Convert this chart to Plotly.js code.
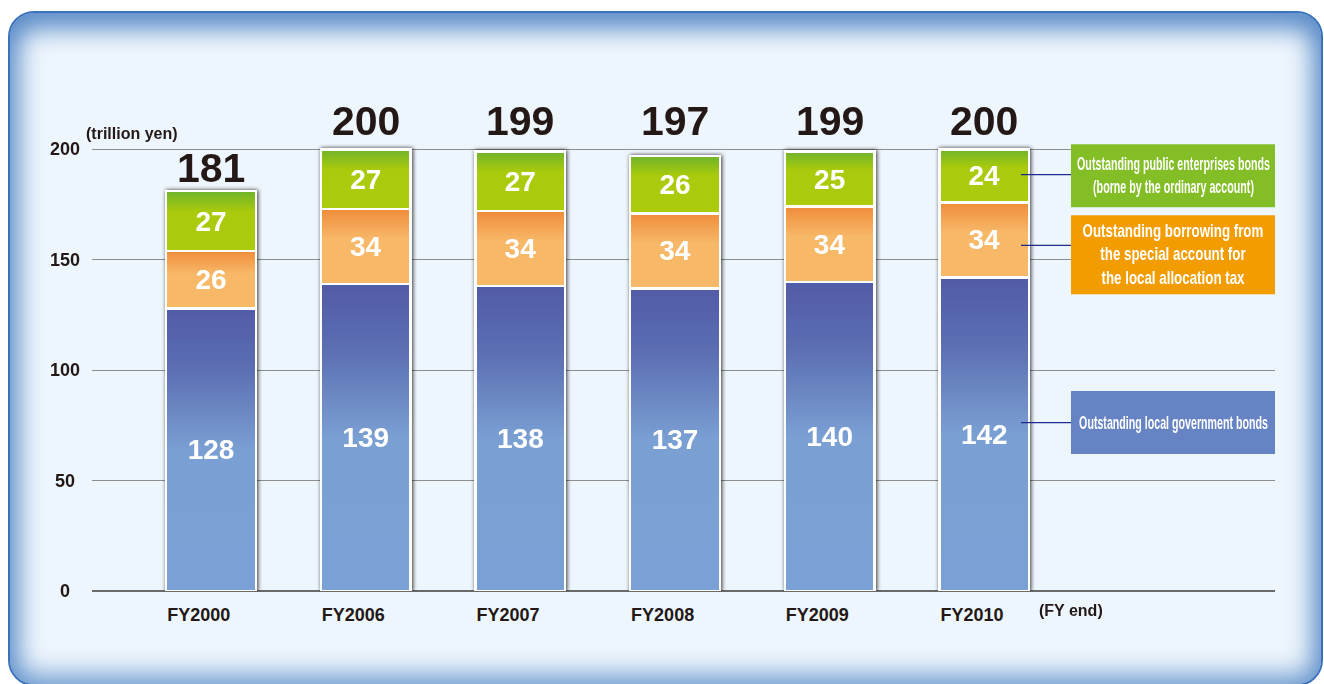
<!DOCTYPE html>
<html>
<head>
<meta charset="utf-8">
<script src="https://cdn.plot.ly/plotly-3.0.1.min.js"></script>
<style>
  html, body { margin:0; padding:0; background:#ffffff; width:1324px; height:684px; overflow:hidden; }
  #frame {
    position:absolute; left:8px; top:11px; width:1311px; height:671px;
    border:2px solid #3a72bb; border-radius:26px;
    background:#eef6fd;
    box-shadow: inset 0 0 26px 8px rgba(78,130,195,0.85), inset 0 22px 26px -6px rgba(78,130,195,0.6);
  }
  #chart { position:absolute; left:0; top:0; width:1324px; height:684px; }
</style>
</head>
<body>
<div id="frame"></div>
<div id="chart"></div>
<script>
// ---- data ----
const categories = ["FY2000", "FY2006", "FY2007", "FY2008", "FY2009", "FY2010"];
const localGovBonds = [128, 139, 138, 137, 140, 142];
const borrowingSpecialAccount = [26, 34, 34, 34, 34, 34];
const publicEnterpriseBonds = [27, 27, 27, 26, 25, 24];
const totals = [181, 200, 199, 197, 199, 200];
const seriesNames = [
  "Outstanding local government bonds",
  "Outstanding borrowing from<br>the special account for<br>the local allocation tax",
  "Outstanding public enterprises bonds<br>(borne by the ordinary account)"
];
const yTicks = [0, 50, 100, 150, 200];
const yUnit = "(trillion yen)";
const xUnit = "(FY end)";

const xIdx = categories.map((c, i) => i);
const txtColor = "#231815";
const sans = "Liberation Sans, Arial, sans-serif";

function barTrace(vals, name, color) {
  return {
    type: "bar", x: xIdx, y: vals, name: name,
    width: 0.58,
    marker: { color: color, line: { color: "#ffffff", width: 2.5 } },
    text: vals.map(String), textposition: "inside", insidetextanchor: "middle",
    textangle: 0, constraintext: "none",
    textfont: { family: sans, size: 28, color: "#ffffff", weight: "bold" },
    hoverinfo: "skip", showlegend: false
  };
}

const data = [
  barTrace(localGovBonds, seriesNames[0], "#6f92cc"),
  barTrace(borrowingSpecialAccount, seriesNames[1], "#f6b05e"),
  barTrace(publicEnterpriseBonds, seriesNames[2], "#a3c914")
];

// plot area: x 92..1275 px, y 0 at 591 px, 2.21 px per unit, range up to 230
const Y_MAX = 230;
const PLOT_H = Y_MAX * 2.21;
const pxX = (px) => (px - 92) / 1183;
const pxY = (py) => (591 - py) / PLOT_H;

const annotations = [
  { text: yUnit, xref: "paper", yref: "paper", x: pxX(84), y: pxY(133), xanchor: "left", yanchor: "middle",
    showarrow: false, font: { family: sans, size: 16, color: txtColor, weight: "bold" } },
  { text: xUnit, xref: "paper", yref: "paper", x: pxX(1037), y: pxY(611), xanchor: "left", yanchor: "middle",
    showarrow: false, font: { family: sans, size: 16, color: txtColor, weight: "bold" } }
];
// legend box texts (annotation indices 2..4)
const legendBoxes = [
  { name: seriesNames[2], top: 144, bottom: 207, color: "#83be26", w: 193 },
  { name: seriesNames[1], top: 215, bottom: 294, color: "#f39c00", w: 181 },
  { name: seriesNames[0], top: 391, bottom: 454, color: "#6683c3", w: 189 }
];
legendBoxes.forEach(b => annotations.push({
  text: b.name, xref: "paper", yref: "paper", x: (pxX(1071) + 1) / 2, y: pxY((b.top + b.bottom) / 2),
  xanchor: "center", yanchor: "middle", showarrow: false,
  font: { family: sans, size: 18, color: "#ffffff", weight: "bold" }
}));
// totals above the stacks; the tall stacks share one label row
totals.forEach((t, i) => annotations.push({
  text: String(t), xref: "x", yref: "y", x: xIdx[i], y: (t < 190 ? t + 10.4 : 213),
  xanchor: "center", yanchor: "middle", showarrow: false,
  font: { family: sans, size: 41, color: txtColor, weight: "bold" }
}));
// y tick labels, centred at a fixed x like the reference
yTicks.forEach(v => annotations.push({
  text: String(v), xref: "paper", yref: "y", x: pxX(65), y: v, xanchor: "center", yanchor: "middle",
  showarrow: false, font: { family: sans, size: 18, color: txtColor, weight: "bold" }
}));

const shapes = legendBoxes.map(b => ({
  type: "rect", xref: "paper", yref: "paper", x0: pxX(1071), x1: 1, y0: pxY(b.bottom), y1: pxY(b.top),
  fillcolor: b.color, line: { width: 0 }, layer: "above"
}));
[188.5, 156.5, 76.2].forEach(v => shapes.push({
  type: "line", xref: "paper", yref: "y", x0: pxX(1021), x1: pxX(1071), y0: v, y1: v,
  line: { color: "#1e2a8c", width: 1.2 }
}));

const layout = {
  width: 1324, height: 684,
  margin: { l: 92, r: 49, t: 684 - 93 - PLOT_H, b: 93 },
  paper_bgcolor: "rgba(0,0,0,0)", plot_bgcolor: "rgba(0,0,0,0)",
  barmode: "stack",
  showlegend: false,
  xaxis: {
    type: "linear", range: [-0.77, 6.88],
    tickvals: xIdx.map(i => i - 0.08), ticktext: categories,
    showgrid: false, zeroline: false, showline: false,
    ticks: "outside", ticklen: 7, tickcolor: "rgba(0,0,0,0)",
    tickfont: { family: sans, size: 18, color: txtColor, weight: "bold" },
    fixedrange: true
  },
  yaxis: {
    range: [0, Y_MAX], tickvals: yTicks, showticklabels: false,
    showgrid: true, gridcolor: "#8e8e8e", gridwidth: 1,
    zeroline: true, zerolinecolor: "#6a6a6a", zerolinewidth: 2.5,
    showline: false, ticks: "",
    fixedrange: true
  },
  annotations: annotations,
  shapes: shapes
};

Plotly.newPlot("chart", data, layout, { staticPlot: true, displayModeBar: false }).then(function (gd) {
  const ns = "http://www.w3.org/2000/svg";
  const svg = gd.querySelector(".main-svg");
  let defs = svg.querySelector("defs");
  if (!defs) { defs = document.createElementNS(ns, "defs"); svg.insertBefore(defs, svg.firstChild); }
  const grads = [
    ["gBlue", [[0, "#515ba6"], [0.22, "#5c6fb3"], [0.5, "#7a9fd3"], [1, "#7aa1d5"]]],
    ["gOrange", [[0, "#ef8c3a"], [0.4, "#f7b868"], [1, "#f7b868"]]],
    ["gGreen", [[0, "#70b32d"], [0.35, "#aacb0a"], [1, "#abcc08"]]]
  ];
  grads.forEach(function (g) {
    const lg = document.createElementNS(ns, "linearGradient");
    lg.setAttribute("id", g[0]);
    lg.setAttribute("x1", "0"); lg.setAttribute("y1", "0");
    lg.setAttribute("x2", "0"); lg.setAttribute("y2", "1");
    g[1].forEach(function (s) {
      const st = document.createElementNS(ns, "stop");
      st.setAttribute("offset", s[0]);
      st.setAttribute("stop-color", s[1]);
      lg.appendChild(st);
    });
    defs.appendChild(lg);
  });
  const f = document.createElementNS(ns, "filter");
  f.setAttribute("id", "barShadow");
  f.setAttribute("x", "-20%"); f.setAttribute("y", "-10%");
  f.setAttribute("width", "140%"); f.setAttribute("height", "120%");
  f.innerHTML = '<feGaussianBlur in="SourceAlpha" stdDeviation="2.2"/>' +
    '<feOffset dx="1" dy="0" result="b"/>' +
    '<feComponentTransfer><feFuncA type="linear" slope="0.8"/></feComponentTransfer>' +
    '<feMerge><feMergeNode/><feMergeNode in="SourceGraphic"/></feMerge>';
  defs.appendChild(f);
  gd.querySelectorAll(".barlayer .trace").forEach(function (t, i) {
    t.querySelectorAll("path").forEach(function (p) {
      p.style.fill = "url(#" + grads[i][0] + ")";
    });
  });
  const bl = gd.querySelector(".barlayer");
  if (bl) bl.setAttribute("filter", "url(#barShadow)");

  // condensed look for the legend box texts: squeeze horizontally to the reference widths
  gd.querySelectorAll(".annotation").forEach(function (a, i) {
    const k = i - 2;
    if (k < 0 || k >= legendBoxes.length) return;
    const t = a.querySelector("text.annotation-text");
    if (!t) return;
    const bb = t.getBBox();
    const s = legendBoxes[k].w / bb.width;
    const cx = bb.x + bb.width / 2;
    const prev = t.getAttribute("transform") || "";
    t.setAttribute("transform", prev + " translate(" + cx + ",0) scale(" + s + ",1) translate(" + (-cx) + ",0)");
  });
});
</script>
</body>
</html>
